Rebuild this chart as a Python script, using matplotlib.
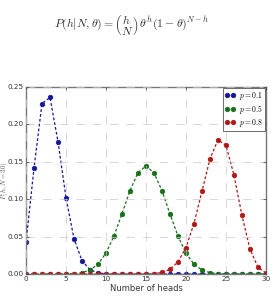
import numpy as np
import matplotlib
matplotlib.use('Agg')
import matplotlib.pyplot as plt

heads = list(range(31))

# p = 0.1
p01 = [0.04239, 0.1413, 0.2277, 0.2361, 0.1771, 0.1023, 0.0474, 0.0180,
       0.00577, 0.00157, 0.000366, 0.000074, 0.000013, 0.000002] + [0.0] * 17

# p = 0.5
half = [0.0, 0.0, 0.0000004, 0.0000038, 0.0000255, 0.000133, 0.000553,
        0.001896, 0.005451, 0.013325, 0.02798, 0.05088, 0.08055, 0.11154,
        0.13544, 0.14446]
p05 = half + half[-2::-1]

# p = 0.8
p08 = [0.0] * 14 + [0.00001, 0.00018, 0.00067, 0.00221, 0.00638, 0.01612,
                    0.03547, 0.06756, 0.11056, 0.15382, 0.17946, 0.17228,
                    0.13252, 0.07853, 0.03366, 0.009285, 0.001238]

plt.style.use('classic')
plt.rcParams['mathtext.fontset'] = 'cm'

fig = plt.figure(figsize=(2.75, 2.96), dpi=100)
ax = fig.add_axes([0.0945, 0.074, 0.8725, 0.632])

colors = ['#16169a', '#17701a', '#b01818']
for vals, c, lab in [(p01, colors[0], '$p=0.1$'), (p05, colors[1], '$p=0.5$'),
                     (p08, colors[2], '$p=0.8$')]:
    ax.plot(heads, vals, 'o', color=c, ls=(0, (2, 1.5)), markersize=3.3,
            markeredgecolor=c, lw=0.9, label=lab)

ax.set_xlim(0, 30)
ax.set_ylim(0, 0.25)
ax.set_xticks(range(0, 31, 5))
ax.set_yticks(np.arange(0, 0.26, 0.05))
ax.tick_params(labelsize=5.2, length=2, colors='#333333', pad=1.5)
for s in ax.spines.values():
    s.set_color('#777777')
ax.grid(True, color='#c8c8c8', linestyle='--', linewidth=0.5)
ax.set_xlabel('Number of heads', fontsize=6, labelpad=1, color='#333333')
ax.set_ylabel('$P(h,N=30)$', fontsize=5, color='#555555')
ax.yaxis.set_label_coords(-0.067, 0.5)
leg = ax.legend(loc='upper right', fontsize=5.5, numpoints=2, handlelength=1.3,
                borderpad=0.25, labelspacing=0.1, handletextpad=0.5,
                borderaxespad=0.15)
leg.get_frame().set_edgecolor('#555555')
leg.get_frame().set_linewidth(0.6)

fig.text(0.48, 0.915,
         r'$P(h|N,\theta) = \left(\genfrac{}{}{0}{0}{h}{N}\right)\,\theta^h(1-\theta)^{N-h}$',
         ha='center', va='center', fontsize=8.5, color='#333333')

fig.savefig('out.png', dpi=100)
